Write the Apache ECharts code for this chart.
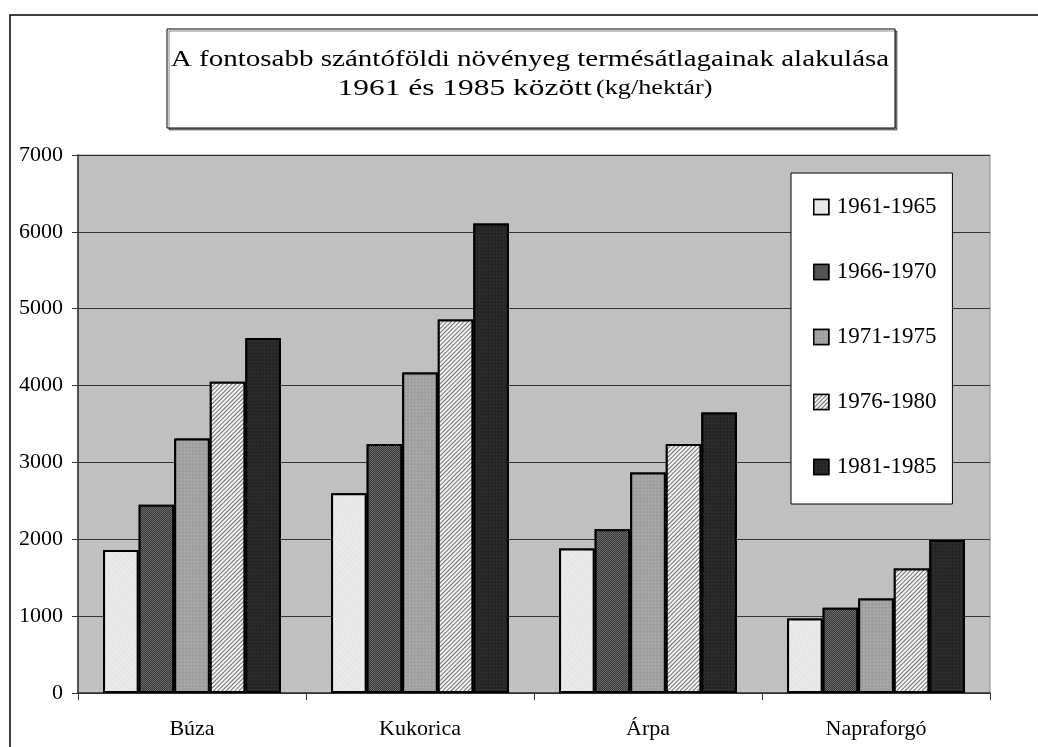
<!DOCTYPE html>
<html>
<head>
<meta charset="utf-8">
<script src="https://cdn.jsdelivr.net/npm/echarts@6/dist/echarts.min.js"></script>
<style>
html,body{margin:0;padding:0;background:#fff;}
#chart{width:1038px;height:747px;}
</style>
</head>
<body>
<div id="chart"></div>
<script>
// növények (kategóriák)
let categories=["Búza","Kukorica","Árpa","Napraforgó"];
// időszakok
let periods=["1961-1965","1966-1970","1971-1975","1976-1980","1981-1985"];
// termésátlagok kg/hektár, időszakonként
let y1961=[1860,2600,1880,970];
let y1966=[2450,3240,2130,1110];
let y1971=[3310,4170,2870,1230];
let y1976=[4050,4860,3240,1620];
let y1981=[4620,6110,3650,1990];
let yTicks=[0,1000,2000,3000,4000,5000,6000,7000];

let serif="'Liberation Serif','Times New Roman',serif";
let values=[y1961,y1966,y1971,y1976,y1981];
// mintázat: [alapszín, pontszín]
let fills=[["#f4f4f4","#dcdcdc"],["#6a6a6a","#3a3a3a"],["#b0b0b0","#949494"],["#f4f4f4","#707070"],["#333333","#1e1e1e"]];

let chart=echarts.init(document.getElementById("chart"));

let series=periods.map(function(p,i){
	let decal;
	if(i==3){
		//ferde csíkozás
		decal={
			symbol:'rect',
			symbolSize:1,
			dashArrayX:[1,0],
			dashArrayY:[1,1.2],
			rotation:-Math.PI/4,
			color:fills[i][1],
			backgroundColor:fills[i][0]
		};
	}else{
		//apró pöttyök
		decal={
			symbol:'rect',
			symbolSize:1,
			dashArrayX:[[1,1],[0,1,1,0]],
			dashArrayY:[1,0],
			color:fills[i][1],
			backgroundColor:fills[i][0]
		};
	}
	return {
		name:p,
		type:"bar",
		data:values[i],
		barGap:"0%",
		barCategoryGap:"22%",
		itemStyle:{color:fills[i][0],borderColor:"#000",borderWidth:2,decal:decal}
	};
});

let option={
	animation:false,
	backgroundColor:"#fff",
	aria:{enabled:true,decal:{show:true}},
	graphic:[
		{type:"rect",shape:{x:10,y:15,width:1040,height:760},style:{fill:"none",stroke:"#000",lineWidth:1.5},z:-1},
		{type:"rect",shape:{x:167,y:29,width:728,height:99},
			style:{fill:"#fff",stroke:"#000",lineWidth:1,shadowColor:"rgba(0,0,0,0.45)",shadowOffsetX:2,shadowOffsetY:2,shadowBlur:0},z:10},
		{type:"text",x:530,y:60,scaleX:1.21,z:11,style:{
			text:"A fontosabb szántóföldi növényeg termésátlagainak alakulása",
			font:"24px "+serif,fill:"#000",align:"center",verticalAlign:"middle"}},
		{type:"text",x:525,y:89,scaleX:1.31,z:11,style:{
			text:"{a|1961 és 1985 között} {b|(kg/hektár)}",
			align:"center",verticalAlign:"middle",fill:"#000",
			rich:{
				a:{fontFamily:serif,fontSize:24,fill:"#000"},
				b:{fontFamily:serif,fontSize:20,fill:"#000"}
			}}}
	],
	legend:{
		orient:"vertical",
		left:791,
		top:173,
		data:periods,
		backgroundColor:"#fff",
		borderColor:"#000",
		borderWidth:1,
		padding:[21,16,24,22],
		itemWidth:15,
		itemHeight:15,
		itemGap:39,
		icon:"rect",
		itemStyle:{borderWidth:1.5,borderColor:"#000"},
		textStyle:{fontFamily:serif,fontSize:23,color:"#000",lineHeight:26,padding:[0,0,0,3]}
	},
	grid:{
		left:78,
		right:48,
		top:155,
		bottom:54,
		show:true,
		backgroundColor:"#c0c0c0",
		borderColor:"#8a8a8a",
		borderWidth:1
	},
	xAxis:{
		type:"category",
		data:categories,
		axisLine:{lineStyle:{color:"#333",width:1.5}},
		axisTick:{show:true,length:7,lineStyle:{color:"#333"}},
		axisLabel:{fontFamily:serif,fontSize:22,color:"#000",margin:25}
	},
	yAxis:{
		type:"value",
		min:yTicks[0],
		max:yTicks[yTicks.length-1],
		interval:1000,
		axisLine:{show:true,lineStyle:{color:"#333",width:1.5}},
		axisTick:{show:true,length:6,lineStyle:{color:"#333"}},
		axisLabel:{fontFamily:serif,fontSize:22,color:"#000",margin:15,
			formatter:function(v){return String(v);}},
		splitLine:{lineStyle:{color:"#333",width:1.2}}
	},
	series:series
};
chart.setOption(option);
</script>
</body>
</html>
